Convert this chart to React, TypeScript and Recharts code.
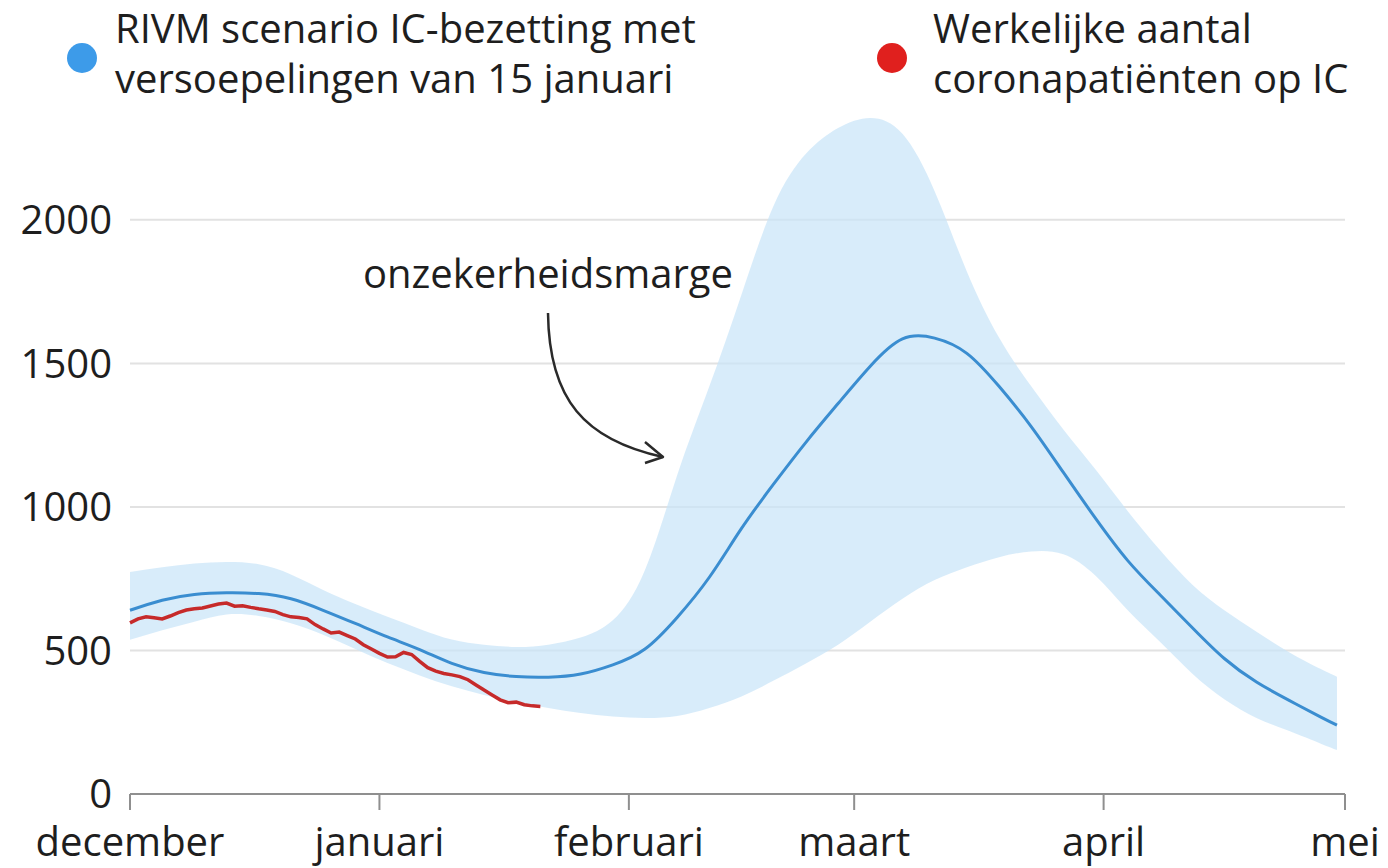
import React from "react";
import { ComposedChart, Area, Line, XAxis, YAxis, CartesianGrid } from "recharts";

// days counted from 1 december
const monthTicks = [0, 31, 62, 90, 121, 151];
const monthLabels = ["december", "januari", "februari", "maart", "april", "mei"];
const yTicks = [0, 500, 1000, 1500, 2000];
const gridValues = [500, 1000, 1500, 2000];

const scenarioDays = [0, 4, 8, 12, 16, 20, 24, 28, 32, 36, 40, 44, 48, 52, 56, 60, 64, 68, 72, 76, 80, 84, 88, 92, 96, 100, 104, 108, 112, 116, 120, 124, 128, 132, 136, 140, 144, 148, 150];
const scenarioMid = [640, 675, 695, 701, 698, 680, 640, 594, 547, 503, 455, 423, 409, 407, 418, 450, 505, 615, 755, 925, 1080, 1225, 1360, 1490, 1585, 1588, 1535, 1420, 1280, 1120, 960, 813, 694, 580, 472, 390, 327, 268, 240];
const scenarioLow = [537, 570, 600, 625, 620, 595, 555, 505, 456, 413, 375, 345, 320, 300, 282, 270, 265, 272, 300, 340, 395, 455, 520, 600, 680, 745, 790, 825, 845, 835, 760, 640, 530, 420, 330, 265, 220, 175, 153];
const scenarioHigh = [773, 790, 803, 808, 800, 765, 711, 662, 617, 575, 538, 520, 512, 520, 545, 605, 780, 1110, 1420, 1740, 2050, 2230, 2320, 2355, 2300, 2100, 1820, 1590, 1420, 1270, 1130, 985, 850, 730, 640, 565, 495, 435, 408];

const actualDays = [0, 1, 2, 3, 4, 5, 6, 7, 8, 9, 10, 11, 12, 13, 14, 15, 16, 17, 18, 19, 20, 21, 22, 23, 24, 25, 26, 27, 28, 29, 30, 31, 32, 33, 34, 35, 36, 37, 38, 39, 40, 41, 42, 43, 44, 45, 46, 47, 48, 49, 50, 51];
const actualIC = [596, 610, 617, 614, 610, 620, 632, 641, 645, 648, 655, 662, 665, 654, 656, 650, 645, 641, 636, 625, 617, 615, 610, 590, 575, 561, 564, 552, 540, 520, 505, 490, 477, 478, 493, 486, 462, 440, 428, 420, 415, 409, 398, 380, 362, 345, 328, 318, 320, 311, 307, 305];

const FONT = "'Open Sans', sans-serif";

type Row = { day: number; mid?: number; band?: [number, number]; actual?: number };

function buildRows(): Row[] {
  const map = new Map<number, Row>();
  const get = (d: number) => {
    if (!map.has(d)) map.set(d, { day: d });
    return map.get(d)!;
  };
  scenarioDays.forEach((d, i) => {
    const r = get(d);
    r.mid = scenarioMid[i];
    r.band = [scenarioLow[i], scenarioHigh[i]];
  });
  actualDays.forEach((d, i) => {
    get(d).actual = actualIC[i];
  });
  return Array.from(map.values()).sort((a, b) => a.day - b.day);
}

const rows = buildRows();

function LegendItem({ left, dotX, color, lines, size }: { left: number; dotX: number; color: string; lines: string[]; size: number }) {
  return (
    <>
      <div
        style={{
          position: "absolute",
          left: dotX - 15,
          top: 43,
          width: 30,
          height: 30,
          borderRadius: "50%",
          background: color,
        }}
      />
      <div
        style={{
          position: "absolute",
          left,
          top: 3,
          fontSize: size,
          lineHeight: "50px",
          color: "#1e1e1e",
          whiteSpace: "nowrap",
        }}
      >
        {lines.map((l) => (
          <div key={l}>{l}</div>
        ))}
      </div>
    </>
  );
}

export default function App() {
  return (
    <div
      style={{
        position: "absolute",
        left: 0,
        top: 0,
        width: 1388,
        height: 868,
        background: "#fff",
        fontFamily: FONT,
        overflow: "hidden",
      }}
    >
      <ComposedChart
        width={1388}
        height={868}
        data={rows}
        margin={{ top: 105, right: 43, bottom: 0, left: 10 }}
      >
        <CartesianGrid
          horizontal
          vertical={false}
          horizontalValues={gridValues}
          stroke="#e2e2e2"
          strokeWidth={2}
        />
        <XAxis
          dataKey="day"
          type="number"
          domain={[0, 151]}
          ticks={monthTicks}
          interval={0}
          tickFormatter={(v: number) => monthLabels[monthTicks.indexOf(v)] ?? ""}
          height={74}
          axisLine={{ stroke: "#8f8f8f", strokeWidth: 2 }}
          tickLine={{ stroke: "#8f8f8f", strokeWidth: 2 }}
          tickSize={16}
          tickMargin={18}
          tick={{ fill: "#1e1e1e", fontSize: 40, fontFamily: FONT }}
        />
        <YAxis
          type="number"
          domain={[0, 2400]}
          ticks={yTicks}
          interval={0}
          width={120}
          axisLine={false}
          tickLine={false}
          tickSize={0}
          tickMargin={18}
          tick={{ fill: "#1e1e1e", fontSize: 40, fontFamily: FONT }}
        />
        <Area
          dataKey="band"
          type="natural"
          stroke="none"
          fill="#c9e4f8"
          fillOpacity={0.72}
          connectNulls
          isAnimationActive={false}
        />
        <Line
          dataKey="mid"
          type="natural"
          stroke="#3a8dd0"
          strokeWidth={3}
          dot={false}
          connectNulls
          isAnimationActive={false}
        />
        <Line
          dataKey="actual"
          type="linear"
          stroke="#c62a2a"
          strokeWidth={3.5}
          dot={false}
          isAnimationActive={false}
        />
      </ComposedChart>

      <LegendItem left={115} dotX={82} color="#3d9be9" size={40} lines={["RIVM scenario IC-bezetting met", "versoepelingen van 15 januari"]} />
      <LegendItem left={933} dotX={892} color="#e0201e" size={40} lines={["Werkelijke aantal", "coronapatiënten op IC"]} />

      <svg width={1388} height={868} style={{ position: "absolute", left: 0, top: 0, pointerEvents: "none" }}>
        <text x={548} y={288} textAnchor="middle" fontSize={40} fontFamily={FONT} fill="#1e1e1e">
          onzekerheidsmarge
        </text>
        <path d="M548,313 C549,400 585,440 663,457" fill="none" stroke="#2a2a2a" strokeWidth={2.5} />
        <path d="M645,442 L663,457 L645,463" fill="none" stroke="#2a2a2a" strokeWidth={2.5} strokeLinejoin="round" />
      </svg>
    </div>
  );
}
